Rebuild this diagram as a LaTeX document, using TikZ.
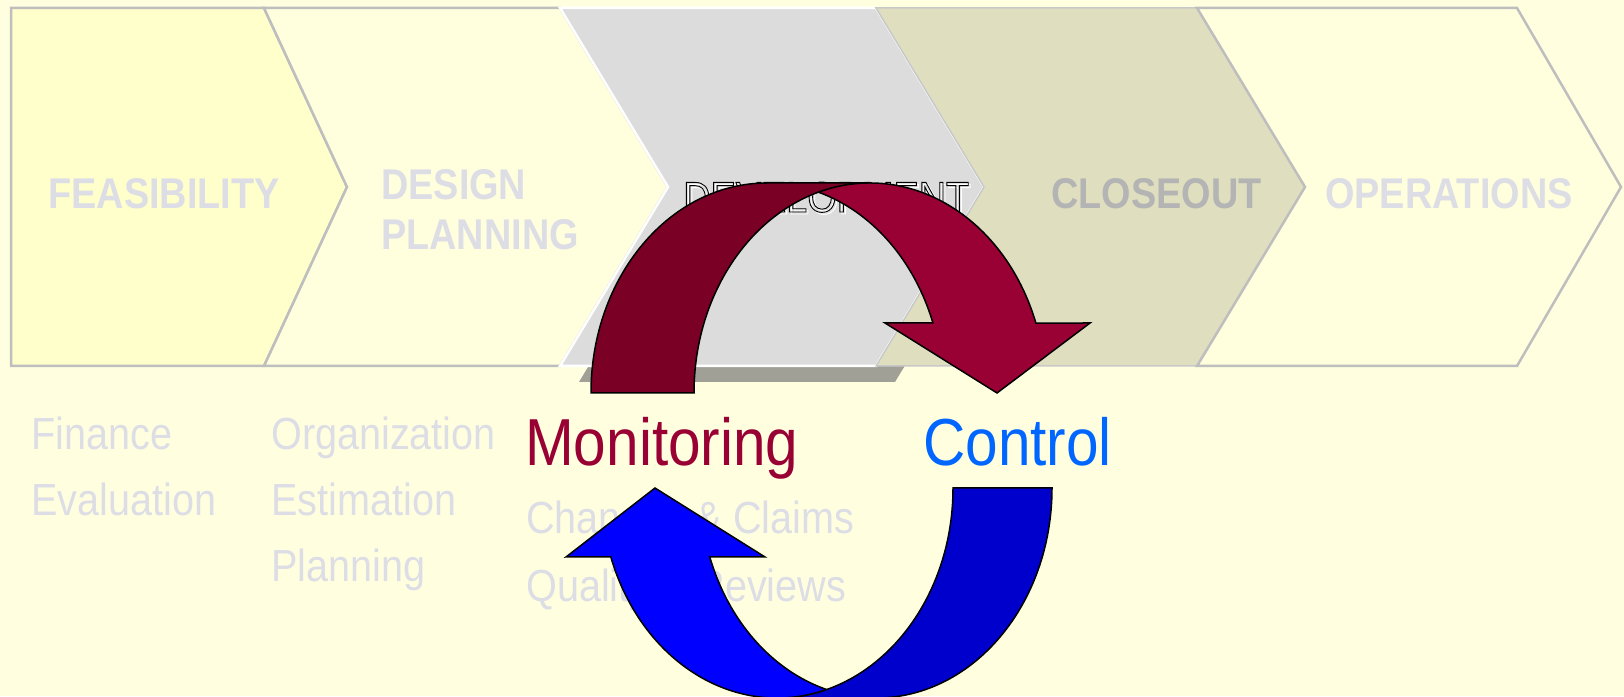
\documentclass[tikz,border=0pt]{standalone}
\usepackage{fontspec}
\setmainfont{Liberation Sans}[FakeStretch=0.88]
\definecolor{bgy}{HTML}{FFFFE0}
\definecolor{feasy}{HTML}{FFFFCC}
\definecolor{lighty}{HTML}{FFFFDD}
\definecolor{devgrey}{HTML}{DCDCDC}
\definecolor{closeg}{HTML}{DFDFC0}
\definecolor{shadowg}{HTML}{A0A096}
\definecolor{chevline}{HTML}{BEBEBE}
\definecolor{closeline}{HTML}{C8C8C8}
\definecolor{faint}{HTML}{DDDDE6}
\definecolor{closetxt}{HTML}{B4B4B4}
\definecolor{reddark}{HTML}{7A0026}
\definecolor{redbright}{HTML}{990033}
\definecolor{bluedark}{HTML}{0000CC}
\definecolor{bluebright}{HTML}{0000FF}
\definecolor{ctrlblue}{HTML}{0066FF}
\newcommand{\strokedtext}[1]{\special{pdf:literal 1 Tr 0.9 w}#1\special{pdf:literal 0 Tr}}
\tikzset{
  chev/.style={draw=chevline, line width=2.5pt, line join=miter},
  phase/.style={font=\fontsize{43}{43}\selectfont\bfseries, text=faint, inner sep=0pt},
  item/.style={font=\fontsize{45}{45}\selectfont, text=faint, inner sep=0pt, anchor=base west},
  big/.style={font=\fontsize{66.5}{67}\selectfont, inner sep=0pt, anchor=base west},
  arrowpart/.style={draw=black, line width=1.5pt, line join=miter},
}
\begin{document}
\begin{tikzpicture}[x=1pt,y=1pt]
\useasboundingbox (0,0) rectangle (1624,696);
\fill[bgy] (0,0) rectangle (1624,696);
% chevrons
\filldraw[chev, fill=feasy] (11,688) -- (264,688) -- (347,509) -- (264,330) -- (11,330) -- cycle;
\filldraw[chev, fill=lighty] (264,688) -- (560,688) -- (668,509) -- (560,330) -- (264,330) -- (347,509) -- cycle;
\fill[shadowg] (579,672) -- (895,672) -- (1003,493) -- (895,314) -- (579,314) -- (687,493) -- cycle;
\filldraw[fill=devgrey, draw=white, line width=2.5pt] (560,688) -- (876,688) -- (984,509) -- (876,330) -- (560,330) -- (668,509) -- cycle;
\filldraw[fill=closeg, draw=closeline, line width=1.5pt] (876,688) -- (1197,688) -- (1305,509) -- (1197,330) -- (876,330) -- (984,509) -- cycle;
\filldraw[chev, fill=lighty] (1197,688) -- (1517,688) -- (1621,509) -- (1517,330) -- (1197,330) -- (1305,509) -- cycle;
% phase labels
\node[phase, anchor=base] (feas) at (164,487) {FEASIBILITY};
\node[phase, anchor=base west] (des1) at (381,496) {DESIGN};
\node[phase, anchor=base west] (des2) at (381,446) {PLANNING};
\node[inner sep=0pt, anchor=base west, font=\fontsize{43}{43}\selectfont, text=white] (devsh) at (685,482) {\strokedtext{DEVELOPMENT}};
\node[inner sep=0pt, anchor=base west, font=\fontsize{43}{43}\selectfont, text=black] (dev) at (683,484) {\strokedtext{DEVELOPMENT}};
\node[phase, anchor=base west, text=closetxt] (close) at (1051,487) {CLOSEOUT};
\node[phase, anchor=base west] (ops) at (1325,487) {OPERATIONS};
% items
\node[item] (fin) at (31,246.5) {Finance};
\node[item] (eva) at (31,180) {Evaluation};
\node[item] (org) at (271,246.5) {Organization};
\node[item] (est) at (271,180) {Estimation};
\node[item] (pla) at (271,114) {Planning};
\node[item] (chg) at (526,162) {Changes \& Claims};
\node[item] (qua) at (526,95) {Quality\hspace{47pt}Reviews};
\node[big, text=redbright] (mon) at (525,230) {Monitoring};
\node[big, text=ctrlblue] (ctl) at (923,230) {Control};
% red curved arrow (monitoring -> control)
\filldraw[arrowpart, fill=reddark] (591,303) arc[start angle=180, end angle=90, x radius=176, y radius=210]
  -- (870,513) arc[start angle=90, end angle=180, x radius=176, y radius=210] -- cycle;
\filldraw[arrowpart, fill=redbright] (818.5,503.8) arc[start angle=107, end angle=19.47, x radius=176, y radius=210]
  -- (1090,373) -- (997,303) -- (885,373) -- (932.9,373)
  arc[start angle=19.47, end angle=73, x radius=176, y radius=210] -- cycle;
% blue curved arrow (control -> monitoring)
\filldraw[arrowpart, fill=bluedark] (1052,208) arc[start angle=0, end angle=-90, x radius=176, y radius=210]
  -- (777,-2) arc[start angle=-90, end angle=0, x radius=176, y radius=210] -- cycle;
\filldraw[arrowpart, fill=bluebright] (826.5,6.5) arc[start angle=-73.67, end angle=-160.82, x radius=176, y radius=210]
  -- (566,139) -- (655,208) -- (765,139) -- (709.8,139)
  arc[start angle=-160.82, end angle=-106.33, x radius=176, y radius=210] -- cycle;
\end{tikzpicture}
\end{document}
